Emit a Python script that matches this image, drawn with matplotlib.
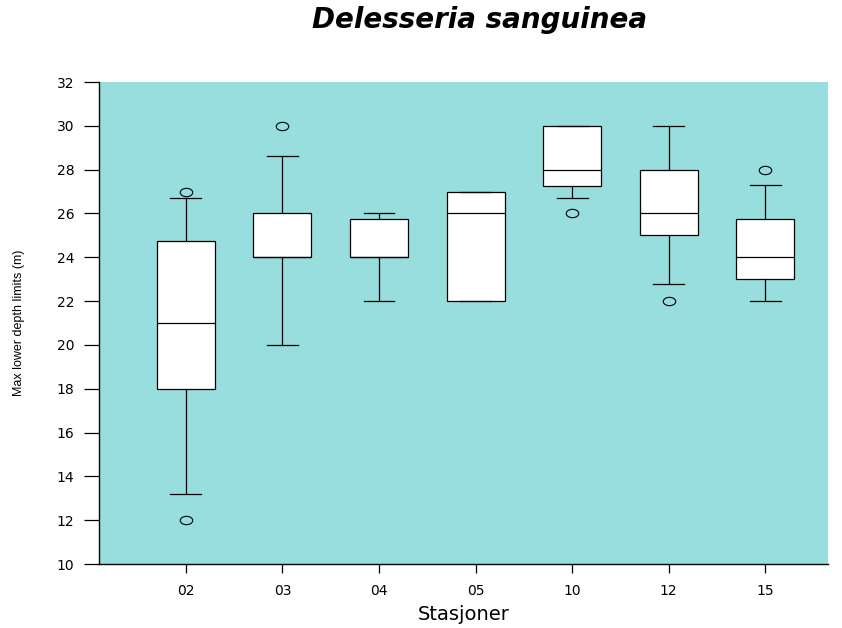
import matplotlib
matplotlib.use("Agg")
import matplotlib.pyplot as plt
from matplotlib.path import Path
from matplotlib.transforms import Affine2D

plt.rcParams["font.family"] = ["DejaVu Sans"]

# values
stations = ["02", "03", "04", "05", "10", "12", "15"]
whislo = [13.2, 20.0, 22.0, 22.0, 26.7, 22.8, 22.0]
q1 = [18.0, 24.0, 24.0, 22.0, 27.25, 25.0, 23.0]
med = [21.0, 24.0, 24.0, 26.0, 28.0, 26.0, 24.0]
q3 = [24.75, 26.0, 25.75, 27.0, 30.0, 28.0, 25.75]
whishi = [26.7, 28.6, 26.0, 27.0, 30.0, 30.0, 27.3]
fliers = [[27.0, 12.0], [30.0], [], [], [26.0], [22.0], [28.0]]

stats = []
for i, name in enumerate(stations):
    stats.append({
        "label": name,
        "whislo": whislo[i], "q1": q1[i], "med": med[i],
        "q3": q3[i], "whishi": whishi[i], "fliers": fliers[i],
    })

# R draws its open circles a bit flattened
ellipse = Path.unit_circle().transformed(Affine2D().scale(1.5, 1.0))

fig = plt.figure(figsize=(8.42, 6.28), dpi=100)
ax = fig.add_axes([99 / 842, 1 - 564 / 628, 729 / 842, 482 / 628])
ax.set_facecolor("#98dede")

line = dict(color="black", linewidth=0.9)
ax.bxp(
    stats, positions=range(1, 8), widths=0.6, patch_artist=True,
    boxprops=dict(facecolor="white", edgecolor="black", linewidth=0.9),
    medianprops=line, whiskerprops=line, capprops=line, capwidths=0.32,
    flierprops=dict(marker=ellipse, markerfacecolor="none", markeredgecolor="black",
                    markersize=9, markeredgewidth=0.8),
)

ax.set_xlim(0.1, 7.65)
ax.set_ylim(10, 32)
ax.set_yticks(range(10, 33, 2))
ax.set_xticks(range(1, 8))
ax.set_xticklabels(stations)

for s in ["top", "right"]:
    ax.spines[s].set_visible(False)
for s in ["left", "bottom"]:
    ax.spines[s].set_linewidth(1.0)

ax.tick_params(axis="y", length=10.8, width=0.9, labelsize=10, pad=7)
ax.tick_params(axis="x", length=6.5, width=0.9, labelsize=10, pad=8)

ax.set_xlabel("Stasjoner", fontsize=14, va="center")
ax.xaxis.set_label_coords(0.5, -50 / 482)
fig.text(19 / 842, 1 - 323 / 628, "Max lower depth limits (m)", rotation=90,
         fontsize=9, family=["Liberation Sans", "DejaVu Sans"],
         ha="center", va="center")
fig.text(480 / 842, 1 - 20 / 628, "Delesseria sanguinea", fontsize=20,
         fontweight="bold", fontstyle="italic", ha="center", va="center")

fig.savefig("out.png", dpi=100)
